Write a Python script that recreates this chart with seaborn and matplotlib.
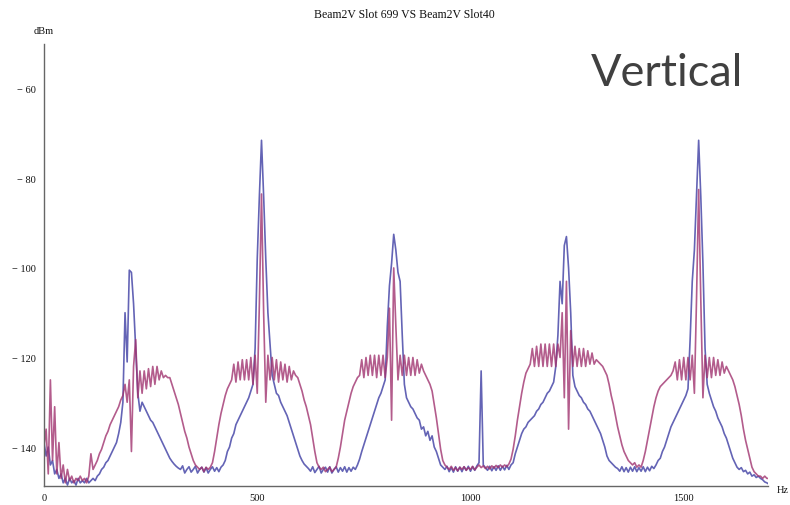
import matplotlib
matplotlib.use("Agg")
import matplotlib.pyplot as plt
from matplotlib.ticker import MultipleLocator, FuncFormatter
import pandas as pd
import seaborn as sns

# frequency grid (Hz), one value every 5 Hz from 0 to 1700
freq_hz = list(range(0, 1701, 5))

# Beam2V Slot 699 (blue), dBm
slot699_dbm = [
    -139, -142, -140, -144, -143, -146, -145, -147, -146, -148, -147, -148.5, -147, -148, -147.5, -148.5, -147, -148, -147.5, -148,
    -147, -148, -147.5, -147, -147.5, -146.5, -146, -145, -144.5, -143.5, -143, -142, -141, -140, -139, -137, -134.5, -130, -110, -121,
    -100.5, -101, -108, -118, -128, -132, -130, -131, -132, -133, -134, -134.5, -135.5, -136.5, -137.5, -138.5, -139.5, -140.5, -141.5, -142.5,
    -143.2, -143.8, -144.3, -144.7, -145, -144.2, -145.8, -145, -144.4, -145.6, -145, -144.3, -145.8, -145, -144.5, -145.6, -144.6, -145.8, -145, -144.4,
    -145.4, -144.6, -145.5, -144.5, -144, -143, -141, -140, -138, -137, -135, -134, -133, -132, -131, -130, -129, -127.5, -126, -118,
    -98, -84, -71.5, -84, -98, -110, -117, -124, -126, -128, -128.5, -130, -131, -132, -133, -134.5, -136, -137.5, -139, -140.5,
    -142, -143, -143.8, -144.3, -144.8, -145.4, -144.4, -145.7, -145, -144.3, -145.8, -145, -144.5, -145.6, -144.4, -145.8, -145, -144.4, -145.6, -144.6,
    -145.4, -144.4, -145.6, -144.6, -145.4, -144.5, -145, -144, -142.7, -141, -139.5, -138, -136.5, -135, -133.5, -132, -130.5, -129, -128, -126.5,
    -125, -113, -104, -99, -92.5, -96, -101, -103, -115, -126, -129, -130, -131, -131.5, -132.5, -133.5, -134, -136, -135.5, -137.5,
    -136.5, -138.5, -137.5, -140, -141, -142.5, -144, -144.5, -145, -144.3, -145.5, -144.6, -145.6, -144.4, -145.4, -144.5, -145.5, -144.4, -145.2, -144.3,
    -145.4, -144.4, -145.2, -144.2, -143.5, -123, -144, -144.6, -145.2, -144.3, -145.3, -144.4, -145.2, -144.2, -145.2, -144.3, -145.1, -144.1, -145, -144,
    -143.5, -141.5, -140, -138.5, -137, -136, -135.5, -134.5, -134, -133.5, -133, -132, -131.5, -130.5, -130, -129, -128, -127.5, -126.5, -125.5,
    -122, -115, -103, -108, -95, -93, -100, -110, -124, -126.5, -127.5, -128.5, -129, -130, -130.5, -131.5, -132, -133, -134, -135,
    -136, -137, -138.5, -140, -142, -143, -143.5, -144, -144.5, -144.8, -145.4, -144.4, -145.5, -144.6, -145.6, -144.5, -145.4, -144.4, -145.5, -144.6,
    -145.4, -144.4, -145.5, -144.5, -145.3, -144.3, -144.8, -144, -143, -142.5, -141, -140, -138.5, -137, -135.5, -134.5, -133.5, -132.5, -131.5, -130.5,
    -129.5, -128.5, -127, -116, -103, -96, -84, -71.5, -84, -99, -118, -126, -128, -129.5, -131, -132, -133.5, -134.5, -135.5, -137,
    -138, -139.5, -141, -142.5, -143.5, -144.5, -145, -144.6, -145.5, -145.2, -146, -145.6, -146.5, -146.2, -146.8, -146.5, -147, -147.3, -147.8, -148,
    -148.3,
]

# Beam2V Slot40 (magenta), dBm
slot40_dbm = [
    -140, -136, -146, -125, -143, -131, -146, -139, -147, -144, -148, -145, -147.5, -146.5, -148, -147, -147.5, -146.5, -147.5, -147,
    -148, -146.5, -141.5, -145, -144, -143, -141.5, -140.5, -139, -137.5, -136.5, -135, -134, -133, -132, -131, -129.5, -128.5, -126, -130,
    -125, -141, -122, -116, -129, -123, -128, -123, -127, -122.5, -126.5, -122, -126, -122, -125, -123, -124.5, -124, -124.5, -124.5,
    -126, -127.5, -129, -130.5, -132.5, -134.5, -136.5, -138, -140, -141.5, -143, -144, -144.5, -145, -144.5, -145.5, -144.5, -145, -144.5, -143.5,
    -141, -138, -135, -132.5, -130.5, -128.5, -127, -126, -125, -121.5, -125.5, -121, -125, -120.5, -125, -120.5, -125, -120, -126, -119.5,
    -128, -108, -83.5, -110, -130, -119.5, -125, -120, -125, -120.5, -125.5, -121, -125, -121.5, -125.5, -122, -125, -123, -124, -124.5,
    -126, -127.5, -129.5, -131, -133, -135, -138, -141, -143.5, -144.5, -145, -144.5, -145.5, -145, -144.5, -145.5, -145, -144.5, -142.5, -140,
    -137, -134, -132, -130, -128, -126.5, -125.5, -124.5, -124, -120.5, -124.5, -120, -124, -119.5, -124, -119.5, -124.5, -119.5, -124, -119.5,
    -124.5, -120, -109, -134, -100, -113, -125, -119.5, -124, -119.5, -124, -120, -124, -120, -124, -120.5, -123.5, -121.5, -123, -124,
    -125, -126, -127.5, -130.5, -133.5, -137, -140.5, -143, -144, -144.5, -145, -144.3, -145.2, -144.6, -145.3, -144.5, -145, -144.4, -145.2, -144.6,
    -145, -144.3, -145.1, -144.5, -144, -144.6, -144.2, -144.8, -144.3, -144.9, -144.2, -144.7, -144.1, -144.6, -144, -144.5, -144, -144.4, -143.8, -142.7,
    -140.5, -137.5, -134, -131, -128, -125.5, -123.5, -122.5, -121.5, -118, -122, -117.5, -122, -117, -122, -117, -122, -117, -122, -117,
    -122, -117, -120, -110, -129, -103, -136, -114, -122, -117.5, -122, -118, -122, -118, -122, -118.5, -121.5, -119, -121.5, -120.5,
    -121, -121.5, -122, -123, -124, -126, -128.5, -130.5, -133, -135.5, -137.5, -139.5, -141, -142, -143, -143.5, -144, -143.5, -144.5, -144,
    -144.5, -143, -141, -138.5, -136, -133.5, -131, -129, -127.5, -126.5, -126, -125.5, -125, -124.5, -124, -123, -121, -125, -120.5, -125,
    -120, -125, -120, -125, -119.5, -128, -107, -82.5, -107, -129, -119.5, -124.5, -120, -124.5, -120, -124, -120.5, -124, -121, -123.5,
    -122, -123, -124, -125, -126.5, -128.5, -130.5, -133, -136, -138.5, -140.5, -142.5, -144.5, -145.5, -146, -146.5, -146.5, -147, -146.5, -147,
    -147,
]

series_names = ["Beam2V Slot 699", "Beam2V Slot40"]
series_colors = ["#3d3da3", "#a0336f"]

df = pd.DataFrame({
    "Hz": freq_hz + freq_hz,
    "dBm": slot699_dbm + slot40_dbm,
    "series": [series_names[0]] * len(freq_hz) + [series_names[1]] * len(freq_hz),
})

sns.set_style("white")
plt.rcParams["font.family"] = ["Liberation Serif", "DejaVu Serif"]

fig = plt.figure(figsize=(7.9, 5.06), dpi=100)
ax = fig.add_axes([44 / 790, 19 / 506, 724 / 790, 442 / 506])

sns.lineplot(data=df, x="Hz", y="dBm", hue="series", hue_order=series_names,
             palette=dict(zip(series_names, series_colors)), estimator=None,
             sort=False, linewidth=1.2, alpha=0.8, legend=False, ax=ax)

ax.set_xlim(0, 1697.6)
ax.set_ylim(-148.7, -50)
ax.set_xlabel("")
ax.set_ylabel("")

for s in ["top", "right"]:
    ax.spines[s].set_visible(False)
for s in ["left", "bottom"]:
    ax.spines[s].set_color("#666666")
    ax.spines[s].set_linewidth(1.0)

ax.xaxis.set_major_locator(MultipleLocator(500))
ax.xaxis.set_minor_locator(MultipleLocator(100))
ax.yaxis.set_major_locator(MultipleLocator(20))
ax.yaxis.set_minor_locator(MultipleLocator(10))
ax.yaxis.set_major_formatter(FuncFormatter(lambda v, p: f"\u2212 {abs(int(round(v)))}"))
ax.xaxis.set_major_formatter(FuncFormatter(lambda v, p: f"{int(round(v))}"))

ax.tick_params(which="major", direction="in", length=4.5, width=0.8, color="#666666",
               labelsize=7.5, labelcolor="#111111")
ax.tick_params(which="minor", direction="in", length=2.5, width=0.7, color="#666666")
ax.tick_params(axis="y", pad=6)
ax.tick_params(axis="x", pad=5)
ax.grid(False)

fig.text(404 / 790, 1 - 15 / 506, "Beam2V Slot 699 VS Beam2V Slot40",
         ha="center", va="center", fontsize=8.5, color="#111111")
fig.text(44 / 790, 1 - 32 / 506, "dBm", ha="center", va="center", fontsize=7.5, color="#111111")
fig.text(783 / 790, 1 - 491 / 506, "Hz", ha="center", va="center", fontsize=7.5, color="#111111")
fig.text(743 / 790, 1 - 86 / 506, "Vertical", ha="right", va="baseline", fontsize=32.5,
         family=["Lato", "DejaVu Sans"], color="#404040")

fig.savefig("out.png", dpi=100, facecolor="white")
